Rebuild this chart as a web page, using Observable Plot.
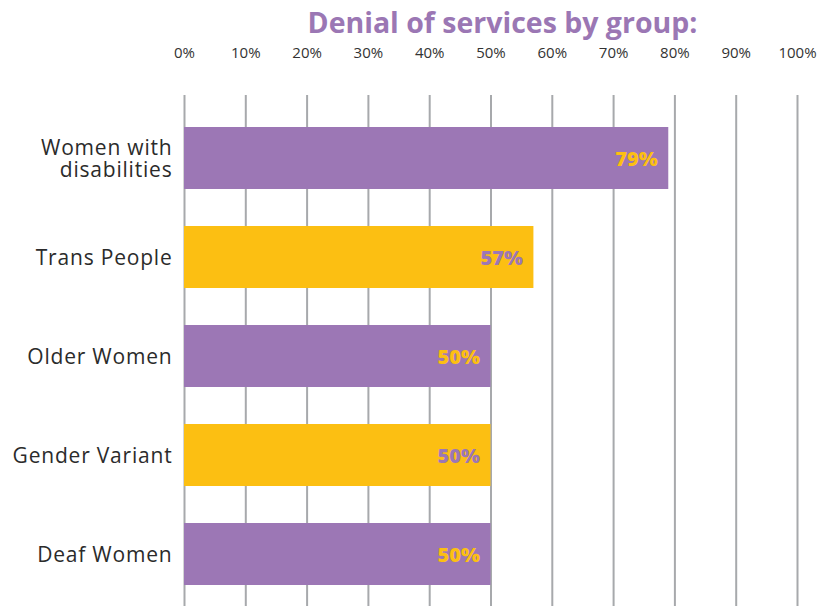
<!DOCTYPE html>
<html>
<head>
<meta charset="utf-8">
<script src="https://cdn.jsdelivr.net/npm/d3@7"></script>
<script src="https://cdn.jsdelivr.net/npm/@observablehq/plot@0.6"></script>
<style>
  html, body { margin: 0; padding: 0; background: #fff; }
  #title { height: 40px; line-height: 44px; font-family: "Open Sans", sans-serif; font-weight: 700; font-size: 28.5px; color: #9b77b4; padding-left: 175px; text-align: center; width: 655px; }
  #chart svg { display: block; }
</style>
</head>
<body>
<div id="title">Denial of services by group:</div>
<div id="chart"></div>
<script>
const groups = ["Women with\ndisabilities", "Trans People", "Older Women", "Gender Variant", "Deaf Women"];
const values = [79, 57, 50, 50, 50];
const labels = ["79%", "57%", "50%", "50%", "50%"];
const ticks = [0, 10, 20, 30, 40, 50, 60, 70, 80, 90, 100];

const PURPLE = "#9c77b5";
const YELLOW = "#fcbf12";
const data = groups.map((g, i) => ({group: g, value: values[i], label: labels[i], i}));

const chart = Plot.plot({
  width: 830,
  height: 566,
  marginLeft: 184,
  marginRight: 33,
  marginTop: 55,
  marginBottom: 0,
  style: {fontFamily: "'Open Sans', sans-serif", background: "#fff"},
  x: {domain: [0, 100], axis: null},
  y: {domain: groups, range: [67, 565], paddingInner: 0.377, paddingOuter: 0.1885, axis: null},
  marks: [
    Plot.ruleX(ticks, {x: d => d, stroke: "#a7a9ac", strokeWidth: 2}),
    Plot.text(ticks, {x: d => d, text: d => d + "%", frameAnchor: "top", dy: -48, fontSize: 15, fill: "#333"}),
    Plot.barX(data, {x1: 0, x2: "value", y: "group", fill: d => d.i % 2 ? YELLOW : PURPLE}),
    Plot.text(data, {x: "value", y: "group", text: "label", textAnchor: "end", dx: -11, dy: 1, fontSize: 20, fontWeight: 800, fill: d => d.i % 2 ? PURPLE : YELLOW}),
    Plot.text(data, {x: 0, y: "group", text: "group", textAnchor: "end", dx: -12, fontSize: 21, lineHeight: 1.05, fill: "#2b2b2b"})
  ]
});
const gl = groups.flatMap(g => g.split("\n"));
chart.querySelectorAll("text").forEach(t => {
  const lines = t.querySelectorAll("tspan").length ? [...t.querySelectorAll("tspan")].map(s => s.textContent) : [t.textContent];
  if (lines.every(l => gl.includes(l))) t.style.letterSpacing = "0.8px";
});
document.getElementById("chart").appendChild(chart);
</script>
</body>
</html>
